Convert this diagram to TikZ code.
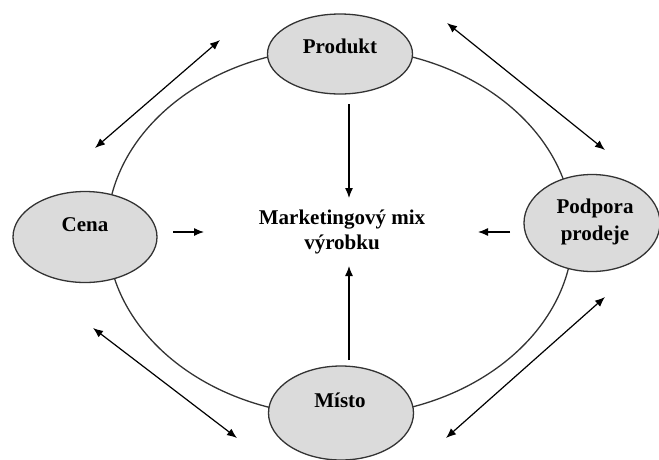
\documentclass[tikz,border=0pt]{standalone}
\usepackage{fontspec}
\setmainfont{Liberation Serif}
\usetikzlibrary{shapes.geometric,arrows.meta}
\begin{document}
\begin{tikzpicture}[x=1pt,y=-1pt,
  ringline/.style={draw=black!80,line width=1.3pt},
  blob/.style={ellipse,draw=black!80,line width=1.3pt,fill=gray!28,inner sep=0pt},
  lbl/.style={font=\bfseries\fontsize{21}{25}\selectfont,align=center,inner sep=0pt},
  arr/.style={line width=1.2pt,-{Latex[length=10pt,width=8pt]}},
  darr/.style={line width=1.2pt,{Latex[length=10pt,width=8pt]}-{Latex[length=10pt,width=8pt]}}]
\useasboundingbox (0,0) rectangle (659,459);
% ring behind the four nodes
\node[ringline,ellipse,minimum width=466pt,minimum height=368pt,inner sep=0pt] (ring) at (340,232) {};
% four nodes
\node[blob,minimum width=145pt,minimum height=80pt] (produkt) at (340,54) {};
\node[blob,minimum width=144pt,minimum height=91pt] (cena) at (85,237) {};
\node[blob,minimum width=136pt,minimum height=97pt] (podpora) at (592,223) {};
\node[blob,minimum width=145pt,minimum height=94pt] (misto) at (341,413) {};
% labels
\node[lbl,anchor=base] (tprodukt) at (340,53) {Produkt};
\node[lbl,anchor=base] (tcena) at (85,231) {Cena};
\node[lbl,font=\bfseries\fontsize{21}{27}\selectfont] (tpodpora) at (595,222) {Podpora\\prodeje};
\node[lbl,anchor=base] (tmisto) at (340,407) {Místo};
\node[lbl] (mix) at (342,232) {Marketingový mix\\výrobku};
% coordinates for arrows to the centre
\coordinate (a1) at (349,104); \coordinate (b1) at (349,198);
\coordinate (a2) at (173,232); \coordinate (b2) at (204,232);
\coordinate (a3) at (510,232); \coordinate (b3) at (478,232);
\coordinate (a4) at (349,360); \coordinate (b4) at (349,266);
\draw[arr] (a1) -- (b1);
\draw[arr] (a2) -- (b2);
\draw[arr] (a3) -- (b3);
\draw[arr] (a4) -- (b4);
% double arrows outside
\coordinate (c1) at (95,148); \coordinate (d1) at (220,40);
\coordinate (c2) at (447,23); \coordinate (d2) at (605,150);
\coordinate (c3) at (93,328); \coordinate (d3) at (237,438);
\coordinate (c4) at (605,297); \coordinate (d4) at (446,438);
\draw[darr] (c1) -- (d1);
\draw[darr] (c2) -- (d2);
\draw[darr] (c3) -- (d3);
\draw[darr] (c4) -- (d4);
\end{tikzpicture}
\end{document}
